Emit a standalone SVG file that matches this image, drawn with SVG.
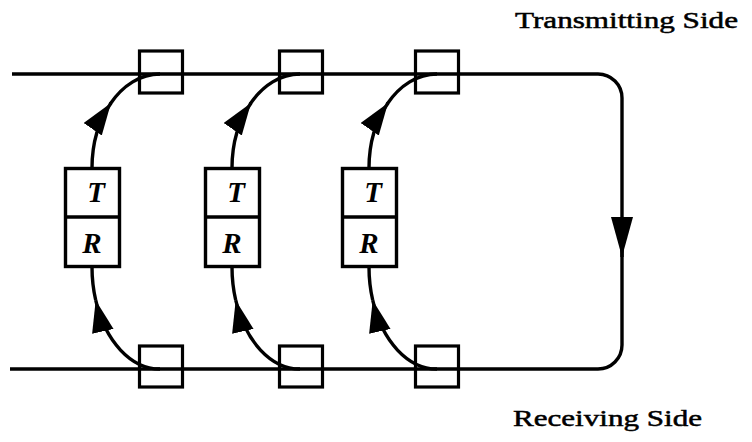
<svg xmlns="http://www.w3.org/2000/svg" width="752" height="442" viewBox="0 0 752 442">
<style>
.ln{fill:none;stroke:#000;stroke-width:3.4}
.sq{fill:none;stroke:#000;stroke-width:3.2}
.bx{fill:#fff;stroke:#000;stroke-width:3.4}
.lt{font-family:"Liberation Serif","Times New Roman",serif;font-weight:bold;font-style:italic;font-size:29px;text-anchor:middle;fill:#000}
.lb{font-family:"Liberation Serif","Times New Roman",serif;font-size:23px;fill:#000;stroke:#000;stroke-width:0.5}
</style>
<defs>
<marker id="ah" markerUnits="userSpaceOnUse" markerWidth="40" markerHeight="30" refX="32" refY="11" orient="auto">
<path d="M0,0 L32,11 L0,22 Z" fill="#000"/>
</marker>
<marker id="ahl" markerUnits="userSpaceOnUse" markerWidth="44" markerHeight="26" refX="40" refY="11" orient="auto">
<path d="M0,0 L40,11 L0,22 Z" fill="#000"/>
</marker>
</defs>
<rect width="752" height="442" fill="#fff"/>
<g id="connectors">
<path class="ln" d="M12,74 L598,74 A24,24 0 0 1 622,98 L622,257" marker-end="url(#ahl)"/>
<path class="ln" d="M622,250 L622,345 A24,24 0 0 1 598,369 L10,369"/>
<g id="col0">
<path class="ln" d="M92,168 A68,94 0 0 1 111,103" marker-end="url(#ah)"/>
<path class="ln" d="M110,104.3 A68,94 0 0 1 160,74"/>
<path class="ln" d="M160,369 A68,102 0 0 1 95.7,300.2" marker-end="url(#ah)"/>
<path class="ln" d="M95.7,300.2 A68,102 0 0 1 92,267"/>
</g>
<g id="col1" transform="translate(140,0)">
<path class="ln" d="M92,168 A68,94 0 0 1 111,103" marker-end="url(#ah)"/>
<path class="ln" d="M110,104.3 A68,94 0 0 1 160,74"/>
<path class="ln" d="M160,369 A68,102 0 0 1 95.7,300.2" marker-end="url(#ah)"/>
<path class="ln" d="M95.7,300.2 A68,102 0 0 1 92,267"/>
</g>
<g id="col2" transform="translate(277,0)">
<path class="ln" d="M92,168 A68,94 0 0 1 111,103" marker-end="url(#ah)"/>
<path class="ln" d="M110,104.3 A68,94 0 0 1 160,74"/>
<path class="ln" d="M160,369 A68,102 0 0 1 95.7,300.2" marker-end="url(#ah)"/>
<path class="ln" d="M95.7,300.2 A68,102 0 0 1 92,267"/>
</g>
</g>
<g id="tx1"><rect class="sq" x="139.5" y="51" width="43" height="42"/></g>
<g id="tx2"><rect class="sq" x="279.5" y="51" width="43" height="42"/></g>
<g id="tx3"><rect class="sq" x="415.5" y="51" width="43" height="42"/></g>
<g id="rx1"><rect class="sq" x="139.5" y="346" width="43" height="41"/></g>
<g id="rx2"><rect class="sq" x="279.5" y="346" width="43" height="41"/></g>
<g id="rx3"><rect class="sq" x="415.5" y="346" width="43" height="41"/></g>
<g id="station1">
<rect class="bx" x="65.5" y="168.5" width="54" height="98"/>
<line class="ln" x1="65.5" y1="217" x2="119.5" y2="217"/>
<text class="lt" x="96" y="202">T</text>
<text class="lt" x="92" y="253">R</text>
</g>
<g id="station2" transform="translate(140,0)">
<rect class="bx" x="65.5" y="168.5" width="54" height="98"/>
<line class="ln" x1="65.5" y1="217" x2="119.5" y2="217"/>
<text class="lt" x="96" y="202">T</text>
<text class="lt" x="92" y="253">R</text>
</g>
<g id="station3" transform="translate(277,0)">
<rect class="bx" x="65.5" y="168.5" width="54" height="98"/>
<line class="ln" x1="65.5" y1="217" x2="119.5" y2="217"/>
<text class="lt" x="96" y="202">T</text>
<text class="lt" x="92" y="253">R</text>
</g>
<text class="lb" x="515" y="28" textLength="223" lengthAdjust="spacingAndGlyphs">Transmitting Side</text>
<text class="lb" x="513" y="426" textLength="189" lengthAdjust="spacingAndGlyphs">Receiving Side</text>
</svg>
